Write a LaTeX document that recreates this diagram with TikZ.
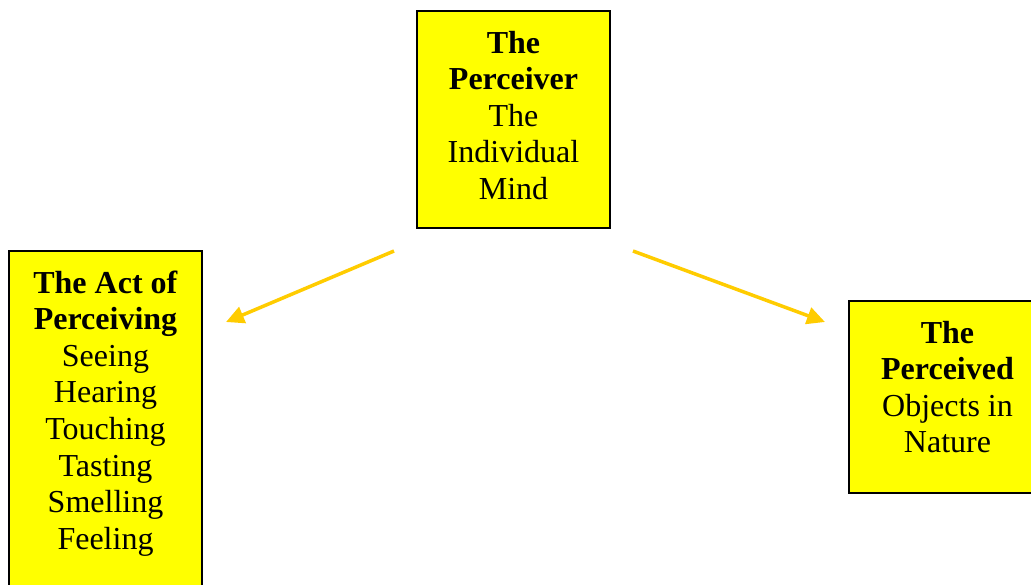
\documentclass[tikz,border=0pt]{standalone}
\usepackage{fontspec}
\setmainfont{Liberation Serif}
\usetikzlibrary{arrows.meta}
\definecolor{boxyellow}{HTML}{FFFF00}
\definecolor{arrowgold}{HTML}{FFCC00}
\newcommand{\boxtext}[3]{\begin{minipage}[c][#1pt][t]{#2pt}\centering\fontsize{32}{36.6}\selectfont\vspace*{16.5pt}\strut #3\end{minipage}}
\tikzset{
  pbox/.style={draw=black, line width=1.8pt, fill=boxyellow, inner sep=0pt, anchor=north},
  parrow/.style={draw=arrowgold, line width=3.5pt, -{Triangle[length=18pt,width=17pt]}}
}
\begin{document}
\begin{tikzpicture}[x=1pt,y=-1pt]
\useasboundingbox (0,0) rectangle (1031,584);
\clip (0,0) rectangle (1031,584);
\fill[white] (0,0) rectangle (1031,584);
\node[pbox] (perceiver) at (513.5,10) {\boxtext{217}{193}{\textbf{The}\\ \textbf{Perceiver}\\ The\\ Individual\\ Mind\strut}};
\node[pbox] (act) at (105.5,250) {\boxtext{360}{193}{\textbf{The Act of}\\ \textbf{Perceiving}\\ Seeing\\ Hearing\\ Touching\\ Tasting\\ Smelling\\ Feeling\strut}};
\node[pbox] (perceived) at (947.5,300) {\boxtext{192}{197}{\textbf{The}\\ \textbf{Perceived}\\ Objects in\\ Nature\strut}};
\coordinate (a1s) at (394,251);
\coordinate (a1e) at (226,322);
\coordinate (a2s) at (633,251);
\coordinate (a2e) at (825,322);
\draw[parrow] (a1s) -- (a1e);
\draw[parrow] (a2s) -- (a2e);
\end{tikzpicture}
\end{document}
